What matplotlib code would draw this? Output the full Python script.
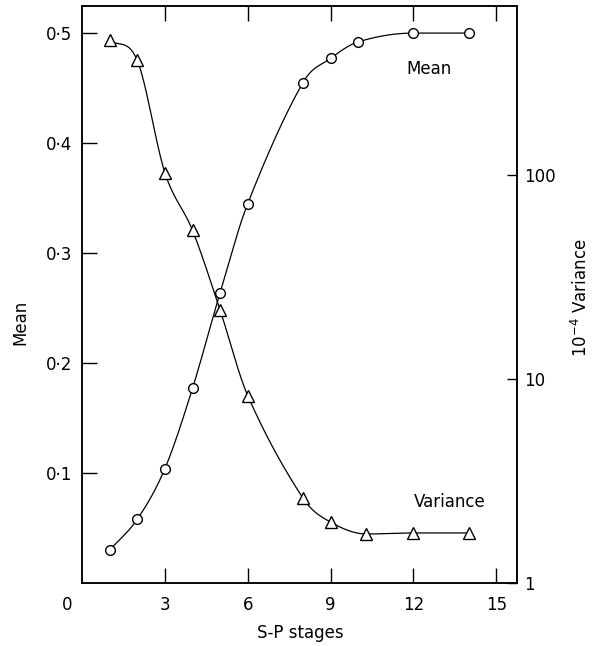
import matplotlib
matplotlib.use('Agg')
import matplotlib.pyplot as plt
import numpy as np

# S-P stage numbers and the two measured series
stages_mean = [1, 2, 3, 4, 5, 6, 8, 9, 10, 12, 14]
mean_vals = [0.030, 0.058, 0.104, 0.177, 0.264, 0.345, 0.455, 0.477, 0.492, 0.500, 0.500]

stages_var = [1, 2, 3, 4, 5, 6, 8, 9, 10.3, 12, 14]
var_vals = [459, 366, 103, 53.7, 21.8, 8.3, 2.61, 1.99, 1.74, 1.76, 1.76]  # units of 1e-4

x_ticks = [3, 6, 9, 12, 15]
mean_ticks = [0.1, 0.2, 0.3, 0.4, 0.5]
mean_tick_labels = ['0·1', '0·2', '0·3', '0·4', '0·5']
var_ticks = [1, 10, 100]


def smooth(x, y, xs):
    """Cardinal (Catmull-Rom style) cubic through the points, for the drawn line."""
    x = np.asarray(x, float)
    y = np.asarray(y, float)
    h = np.diff(x)
    d = np.diff(y) / h
    m = np.zeros_like(y)
    m[0], m[-1] = d[0], d[-1]
    m[1:-1] = (y[2:] - y[:-2]) / (x[2:] - x[:-2])
    # keep flat stretches flat
    for k in range(1, len(x) - 1):
        if d[k - 1] * d[k] <= 0:
            m[k] = 0.0
    idx = np.clip(np.searchsorted(x, xs) - 1, 0, len(x) - 2)
    t = (xs - x[idx]) / h[idx]
    h00 = 2 * t**3 - 3 * t**2 + 1
    h10 = t**3 - 2 * t**2 + t
    h01 = -2 * t**3 + 3 * t**2
    h11 = t**3 - t**2
    return (h00 * y[idx] + h10 * h[idx] * m[idx]
            + h01 * y[idx + 1] + h11 * h[idx] * m[idx + 1])


plt.rcParams['font.family'] = ['DejaVu Sans']
fig = plt.figure(figsize=(5.99, 6.46), dpi=100)
ax = fig.add_axes([0.137, 0.0975, 0.726, 0.893])
ax2 = ax.twinx()

# mean curve
xs = np.linspace(stages_mean[0], stages_mean[-1], 400)
ax.plot(xs, smooth(stages_mean, mean_vals, xs), color='black', lw=0.9)
ax.plot(stages_mean, mean_vals, 'o', ms=7, mfc='white', mec='black', mew=1.0)

# variance curve (smooth in log space)
xs2 = np.linspace(stages_var[0], stages_var[-1], 400)
ax2.plot(xs2, 10 ** smooth(stages_var, np.log10(var_vals), xs2), color='black', lw=0.9)
ax2.plot(stages_var, var_vals, '^', ms=8, mfc='white', mec='black', mew=1.0)

ax.set_xlim(0, 15.75)
ax.set_ylim(0, 0.5245)
ax2.set_yscale('log')
ax2.set_ylim(1, 676)

ax.set_xticks(x_ticks)
ax.set_xticklabels([str(v) for v in x_ticks], fontsize=12)
ax.set_yticks(mean_ticks)
ax.set_yticklabels(mean_tick_labels, fontsize=12)
ax.tick_params(axis='x', direction='in', length=11, width=1, top=True, pad=9)
ax.tick_params(axis='y', direction='in', length=11, width=1, pad=7)

ax2.set_yticks(var_ticks)
ax2.set_yticklabels([str(v) for v in var_ticks], fontsize=12)
ax2.yaxis.set_minor_locator(matplotlib.ticker.NullLocator())
ax2.tick_params(axis='y', direction='in', length=7, width=1, pad=5)

# origin label sits left of the corner
ax.annotate('0', xy=(0, 0), xycoords='data', xytext=(-11, -16),
            textcoords='offset points', ha='center', va='center', fontsize=12)

for a in (ax, ax2):
    for s in a.spines.values():
        s.set_linewidth(1.1)

ax.text(12.57, 0.467, 'Mean', fontsize=12, ha='center', va='center')
ax.text(13.3, 0.074, 'Variance', fontsize=12, ha='center', va='center')

fig.text(300 / 599, 1 - 633 / 646, 'S-P stages', fontsize=12, ha='center', va='center')
fig.text(20 / 599, 1 - 322 / 646, 'Mean', fontsize=12, rotation=90, ha='center', va='center')
fig.text(581 / 599, 1 - 298 / 646, r'10$^{-4}$ Variance', fontsize=12, rotation=90,
         ha='center', va='center')

fig.savefig('out.png', dpi=100)
